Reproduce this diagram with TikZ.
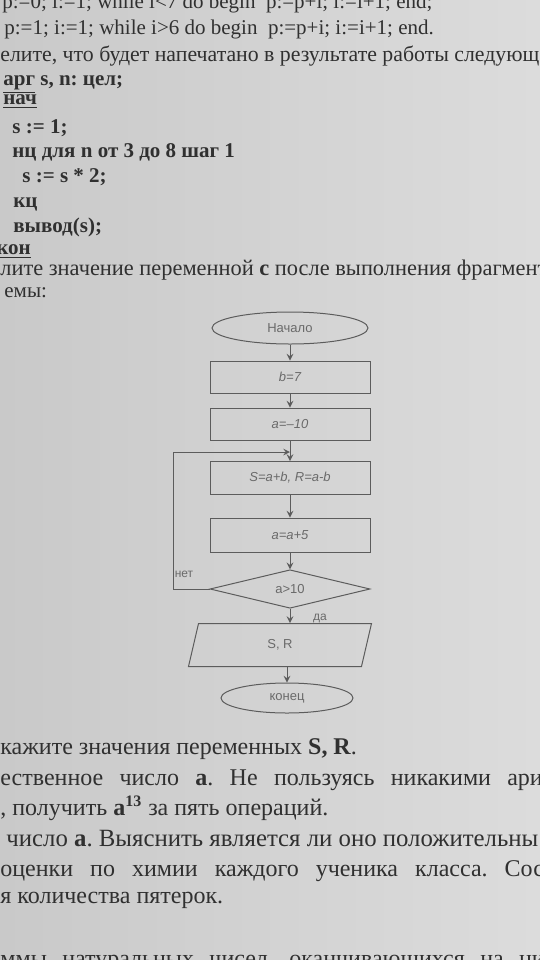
\documentclass[tikz,border=0pt]{standalone}
\usepackage{fontspec}
\setmainfont{Liberation Serif}
\newfontfamily\chartfont{Liberation Sans}
\usetikzlibrary{shapes.geometric}
\frenchspacing

\definecolor{paperl}{HTML}{C9C9C9}
\definecolor{paperr}{HTML}{DCDCDC}
\definecolor{ink}{HTML}{303030}
\definecolor{chartline}{HTML}{5C5C5C}
\definecolor{charttext}{HTML}{6A6A6A}

\tikzset{
  txt/.style={anchor=base west, inner sep=0pt, text=ink, font=\fontsize{10.5}{12}\selectfont},
  wide/.style={txt, font=\fontsize{10.9}{12}\selectfont},
  code/.style={txt, font=\fontsize{10.5}{12}\selectfont\bfseries},
  big/.style={txt, font=\fontsize{12}{14}\selectfont},
  flow/.style={draw=chartline, line width=0.5pt},
  block/.style={flow, rectangle, minimum width=80pt, minimum height=16pt, inner sep=0pt,
    text=charttext, font=\chartfont\itshape\fontsize{6.5}{7}\selectfont},
  oval/.style={flow, ellipse, inner sep=0pt, text=charttext,
    font=\chartfont\fontsize{6.5}{7}\selectfont},
  tag/.style={inner sep=0pt, text=charttext, font=\chartfont\fontsize{6}{7}\selectfont}
}

\begin{document}
\begin{tikzpicture}[x=0.5pt, y=-0.5pt, >=stealth]
    \useasboundingbox (0,0) rectangle (540,960);
    \clip (0,0) rectangle (540,960);
    \shade[left color=paperl, right color=paperr] (0,0) rectangle (540,960);

    % text above the chart
    \node[txt] (l1) at (2,8) {p:=0; i:=1; while i<7 do begin\ \ p:=p+i; i:=i+1; end;};
    \node[txt] (l2) at (4,34) {p:=1; i:=1; while i>6 do begin\ \ p:=p+i; i:=i+1; end.};
    \node[wide] (l3) at (0,61) {елите, что будет напечатано в результате работы следующе};
    \node[code] (l4) at (3,85) {\underline{арг} s, n: цел;};
    \node[code] (l5) at (3,104) {\underline{нач}};
    \node[code] (l6) at (12,133) {s := 1;};
    \node[code] (l7) at (12,157) {нц для n от 3 до 8 шаг 1};
    \node[code] (l8) at (22,182) {s := s * 2;};
    \node[code] (l9) at (13,207) {кц};
    \node[code] (l10) at (13,232) {вывод(s);};
    \node[code] (l11) at (-4,254) {\underline{кон}};
    \node[wide, font=\fontsize{11.2}{12}\selectfont] (l12) at (0,275) {лите значение переменной \textbf{c} после выполнения фрагмент};
    \node[txt] (l13) at (4,297) {емы:};

    % the chart
    \node[oval, minimum width=78pt, minimum height=16pt] (start) at (290,328) {Начало};
    \node[block] (b7) at (290,377) {b=7};
    \node[block] (a10) at (290,424) {a=–10};
    \node[block, minimum height=16.5pt] (sr) at (290,478) {S=a+b, R=a-b};
    \node[block, minimum height=17pt] (a5) at (290,535) {a=a+5};
    \node[flow, diamond, minimum width=80pt, minimum height=17pt, inner sep=0pt,
      text=charttext, font=\chartfont\fontsize{6.5}{7}\selectfont] (cond) at (290,589) {a>10};
    \node[flow, trapezium, trapezium left angle=47, trapezium right angle=133,
      trapezium stretches body, minimum width=91.5pt, minimum height=21.5pt, inner sep=0pt,
      text=charttext, font=\chartfont\fontsize{6.5}{7}\selectfont] (out) at (280,645) {S, R};
    \node[oval, minimum width=66pt, minimum height=15pt] (end) at (287,698) {конец};

    \coordinate (nleft) at (173,589);
    \coordinate (ntop) at (173,452);
    \coordinate (join) at (290,452);

    \draw[flow,->] (start) -- (b7);
    \draw[flow,->] (b7) -- (a10);
    \draw[flow,->] (a10) -- (sr);
    \draw[flow,->] (sr) -- (a5);
    \draw[flow,->] (a5) -- (cond);
    \draw[flow,->] (cond.west) -- (nleft) -- (ntop) -- (join);
    \draw[flow,->] (cond.south) -- (cond.south |- out.north);
    \draw[flow,->] (end.north |- out.south) -- (end.north);

    \node[tag] (no) at (184,574) {нет};
    \node[tag] (yes) at (320,618) {да};

    % text below the chart
    \node[big] (m1) at (0,754) {кажите значения переменных \textbf{S, R}.};
    \node[big] (m2) at (0,785) {\makebox[279pt][s]{ественное число \textbf{а}. Не пользуясь никакими ариф}};
    \node[big] (m3) at (0,815) {, получить \textbf{a}\textsuperscript{\textbf{13}} за пять операций.};
    \node[big, font=\fontsize{12.4}{14}\selectfont] (m4) at (6,846) {число \textbf{а}. Выяснить является ли оно положительны};
    \node[big] (m5) at (0,876) {\makebox[277pt][s]{оценки по химии каждого ученика класса. Сост}};
    \node[big] (m6) at (0,903) {я количества пятерок.};
    \node[big] (m7) at (0,966) {\makebox[280pt][s]{ммы натуральных чисел, оканчивающихся на циф}};
\end{tikzpicture}
\end{document}
